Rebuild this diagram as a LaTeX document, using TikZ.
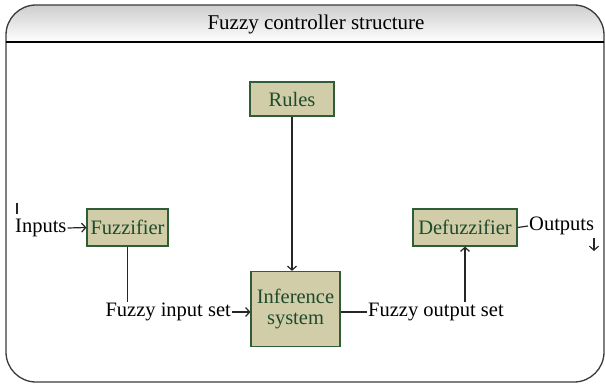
\documentclass[tikz,border=0pt]{standalone}
\usepackage{fontspec}
\setmainfont{Liberation Serif}
\usetikzlibrary{arrows.meta}
\definecolor{boxfill}{HTML}{D1CDA9}
\definecolor{boxline}{HTML}{2F5D3A}
\definecolor{boxtext}{HTML}{1E4B2C}
\definecolor{frame}{HTML}{3A3A3A}
\tikzset{
  blk/.style={draw=boxline, fill=boxfill, line width=1.2pt, text=boxtext, inner sep=0pt, align=center, font=\fontsize{20.5}{21}\selectfont},
  lbl/.style={inner sep=1pt, font=\fontsize{20.5}{22}\selectfont, text=black},
  conn/.style={draw=black!85, line width=1.2pt},
  arr/.style={conn, -{Straight Barb[length=4pt,width=9pt]}}
}
\begin{document}
\begin{tikzpicture}[x=1pt,y=-1pt]
\useasboundingbox (0,0) rectangle (605,385);
% header
\begin{scope}
  \clip[rounded corners=30pt] (6,5) rectangle (604,382);
  \shade[top color=black!22, bottom color=white] (0,0) rectangle (605,42);
\end{scope}
\draw[frame, line width=1.3pt, rounded corners=30pt] (6,5) rectangle (604,382);
\draw[black, line width=1.6pt] (6,42) -- (604,42);
\node[lbl, font=\fontsize{21}{23}\selectfont] (title) at (316,24) {Fuzzy controller structure};
% blocks
\node[blk, minimum width=84pt, minimum height=34pt] (rules) at (292,99) {Rules};
\node[blk, minimum width=81pt, minimum height=37pt] (fuzz) at (127.5,227.5) {Fuzzifier};
\node[blk, minimum width=104pt, minimum height=37pt] (defuzz) at (465,227.5) {Defuzzifier};
\node[blk, minimum width=89pt, minimum height=75pt] (inf) at (295.5,309) {Inference\\system};
% labels
\node[lbl, anchor=west] (in) at (14,228) {Inputs};
\node[lbl, anchor=east] (fin) at (232,312) {Fuzzy input set};
\node[lbl, anchor=west] (out) at (528,226) {Outputs};
\node[lbl, anchor=west] (fout) at (367,312) {Fuzzy output set};
\coordinate (intop) at (17,203);
\coordinate (outbot) at (594,251);
% connectors
\draw[conn] (intop) -- (17,214);
\draw[arr] (in.east) -- (fuzz.west);
\draw[arr] (rules.south) -- (rules.south |- inf.north);
\draw[conn] (fuzz.south) -- (fuzz.south |- fin.north);
\draw[arr] (fin.east) -- (fin.east -| inf.west);
\draw[conn] (inf.east |- fout.west) -- (fout.west);
\draw[arr] (fout.north -| defuzz.south) -- (defuzz.south);
\draw[conn] (defuzz.east) -- (out.west);
\draw[arr] (594,238) -- (outbot);
\end{tikzpicture}
\end{document}
